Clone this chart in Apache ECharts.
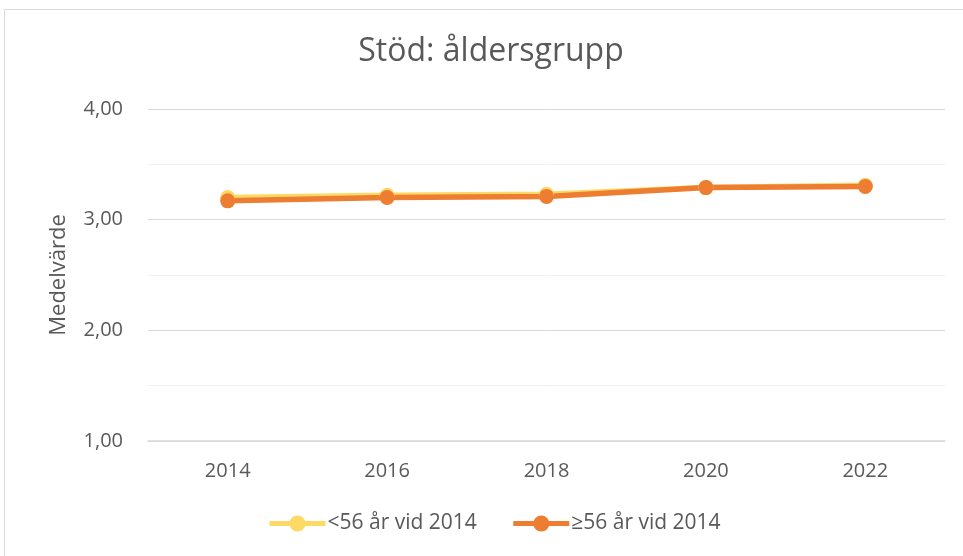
<!DOCTYPE html>
<html><head><meta charset="utf-8">
<script src="https://cdn.jsdelivr.net/npm/echarts@6/dist/echarts.min.js"></script>
<style>html,body{margin:0;padding:0;background:#fff}#c{width:963px;height:556px}</style>
</head><body><div id="c"></div>
<script>
const categories = ['2014','2016','2018','2020','2022'];
const seriesNames = ['<56 år vid 2014','≥56 år vid 2014'];
const youngValues = [3.20, 3.22, 3.23, 3.29, 3.31];
const oldValues = [3.17, 3.20, 3.21, 3.29, 3.30];
const FONT = '"Open Sans", "Liberation Sans", sans-serif';
const chart = echarts.init(document.getElementById('c'));
chart.setOption({
  animation: false,
  backgroundColor: '#fff',
  textStyle: {fontFamily: FONT},
  graphic: [{type:'rect', shape:{x:4.5,y:9.5,width:970,height:560}, style:{fill:'none', stroke:'#D9D9D9', lineWidth:1}, silent:true}],
  title: {text:'Stöd: åldersgrupp', left:486, textAlign:'center', top:31, textStyle:{fontFamily:FONT, fontSize:32, fontWeight:'normal', color:'#595959'}},
  legend: {bottom:17, left:262, itemWidth:56, itemHeight:20, itemGap:34,
    lineStyle:{width:5},
    textStyle:{fontFamily:FONT, fontSize:21, color:'#595959', padding:[0,0,0,-3]},
    data: seriesNames},
  grid: {left:148, right:18, top:109, bottom:115, containLabel:false},
  xAxis: {type:'category', data:categories, boundaryGap:true,
    axisLine:{lineStyle:{color:'#D9D9D9', width:1.5}}, axisTick:{show:false},
    axisLabel:{fontFamily:FONT, fontSize:20, color:'#595959', margin:20}},
  yAxis: {type:'value', min:1, max:4, interval:0.5,
    name:'Medelvärde', nameLocation:'middle', nameGap:78, nameRotate:90,
    nameTextStyle:{fontFamily:FONT, fontSize:22, color:'#595959'},
    axisLine:{show:false}, axisTick:{show:false},
    axisLabel:{fontFamily:FONT, fontSize:20, color:'#595959', margin:25,
      formatter: v => Number.isInteger(v) ? v.toFixed(2).replace('.', ',') : ''},
    splitLine:{lineStyle:{color:['#D9D9D9','#F0F0F0'], width:1}}},
  series: [
    {name:seriesNames[0], type:'line', data:youngValues, symbol:'circle', symbolSize:15,
     lineStyle:{color:'#FFD966', width:5.5}, itemStyle:{color:'#FFD966'}},
    {name:seriesNames[1], type:'line', data:oldValues, symbol:'circle', symbolSize:15,
     lineStyle:{color:'#ED7D31', width:5.5}, itemStyle:{color:'#ED7D31'}}
  ]
});
</script></body></html>
